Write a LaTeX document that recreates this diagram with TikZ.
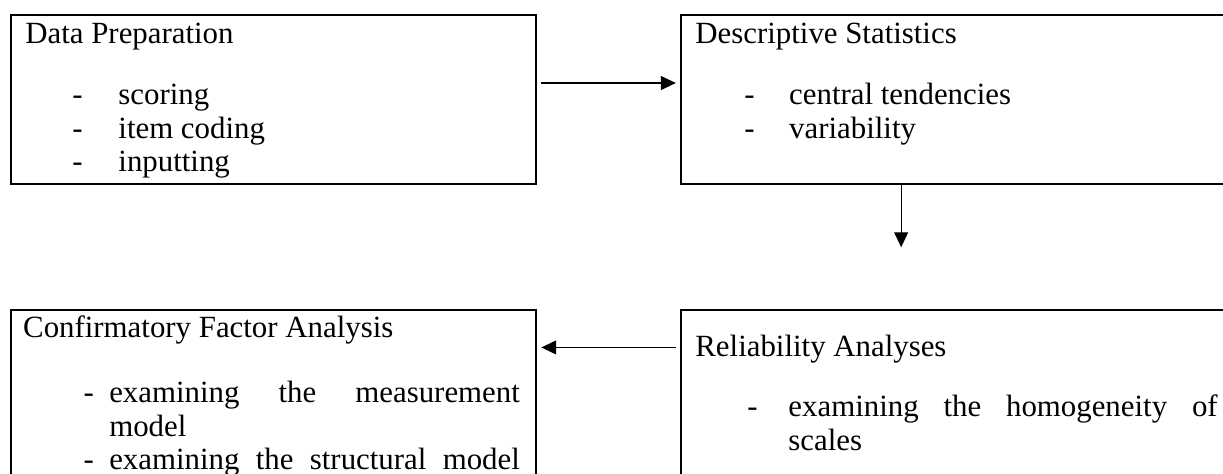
\documentclass[tikz,border=0pt]{standalone}
\usepackage{fontspec}
\setmainfont{Liberation Serif}
\usetikzlibrary{arrows.meta}

% dash item: dash at #1, text (and wrapped lines) at #2
\newcommand{\dashitem}[3]{\par\noindent\hangindent=#2\hangafter=0\llap{\rlap{\hspace*{#1}-}\hspace*{#2}}#3\par}

\begin{document}
\begin{tikzpicture}[
	stagebox/.style={draw, line width=0.8pt, anchor=north west, inner sep=0pt, outer sep=0pt},
	stagetext/.style={anchor=base west, inner sep=0pt, text width=#1, align=justify, font=\fontsize{12pt}{13pt}\selectfont},
	flow/.style={-{Triangle[length=5.8pt,width=5.4pt]}, line width=0.5pt, shorten <=2pt, shorten >=2pt}
]
	\clip (0,0) rectangle (16.72,6.47);

	% Top row
	\node[stagebox, minimum width=7.18cm, minimum height=2.31cm] (prep) at (0.15,6.26) {};
	\node[stagetext=6.8cm] (prept) at ([shift={(0.19,-0.38)}]prep.north west) {Data Preparation\par\vspace{11pt}
		\dashitem{18.3pt}{36.2pt}{scoring}
		\dashitem{18.3pt}{36.2pt}{item coding}
		\dashitem{18.3pt}{36.2pt}{inputting}};

	\node[stagebox, minimum width=8.5cm, minimum height=2.31cm] (desc) at (9.31,6.26) {};
	\node[stagetext=7cm] (desct) at ([shift={(0.19,-0.38)}]desc.north west) {Descriptive Statistics\par\vspace{11pt}
		\dashitem{19pt}{36.5pt}{central tendencies}
		\dashitem{19pt}{36.5pt}{variability}};

	% Bottom row (boxes run on past the edges)
	\node[stagebox, minimum width=7.18cm, minimum height=3cm] (cfa) at (0.15,2.23) {};
	\node[stagetext=6.79cm] (cfat) at ([shift={(0.16,-0.38)}]cfa.north west) {Confirmatory Factor Analysis\par\vspace{12.3pt}
		\dashitem{23.5pt}{33.5pt}{examining the measurement\linebreak model}
		\dashitem{23.5pt}{33.5pt}{examining the structural model\parfillskip=0pt}};

	\node[stagebox, minimum width=8.5cm, minimum height=3cm] (rel) at (9.31,2.23) {};
	\node[stagetext=7.14cm] (relt) at ([shift={(0.19,-0.64)}]rel.north west) {Reliability Analyses\par\vspace{10.3pt}
		\dashitem{20.2pt}{36.2pt}{examining the homogeneity of\linebreak scales}};

	% Arrows
	\draw[flow] ([yshift=-0.925cm]prep.north east) -- ([yshift=-0.925cm]desc.north west);
	\coordinate (down) at (12.32,3.09);
	\draw[flow, shorten <=0pt, shorten >=0pt] (desc.south -| down) -- (down);
	\draw[flow] ([yshift=-0.51cm]rel.north west) -- ([yshift=-0.51cm]cfa.north east);

\end{tikzpicture}
\end{document}
